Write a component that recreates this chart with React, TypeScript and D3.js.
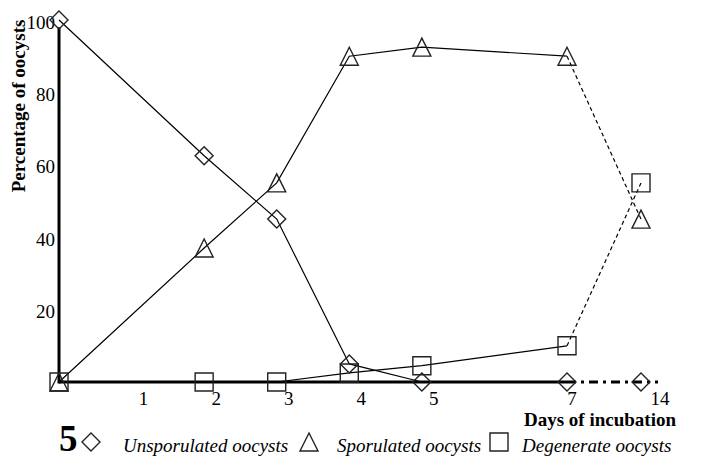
import React, { useEffect, useRef } from 'react';
import * as d3 from 'd3';

// days of incubation at which oocysts were counted
const days = [0, 2, 3, 4, 5, 7, 14];
const unsporulated = [100, 62.5, 45, 5, 0, 0, 0];
const sporulated = [0, 37, 55, 90, 92.5, 90, 45];
const degenerate = [0, 0, 0, 2.5, 4.5, 10, 55];

const xTickDays = [1, 2, 3, 4, 5, 7, 14];
const yTickValues = [20, 40, 60, 80, 100];

const legendItems = ['Unsporulated oocysts', 'Sporulated oocysts', 'Degenerate oocysts'];

const FONT = '"Liberation Serif", "Times New Roman", serif';

type Shape = 'diamond' | 'triangle' | 'square';

const markerPath = (shape: Shape, s = 9) => {
  if (shape === 'diamond') return `M0,${-s}L${s},0L0,${s}L${-s},0Z`;
  if (shape === 'triangle') return `M0,${-s}L${s},${s}L${-s},${s}Z`;
  return `M${-s},${-s}H${s}V${s}H${-s}Z`;
};

const App: React.FC = () => {
  const svgRef = useRef<SVGSVGElement>(null);

  useEffect(() => {
    if (!svgRef.current) return;
    const svg = d3.select(svgRef.current);
    svg.selectAll('*').remove();

    // broken axis: 0-7 evenly spaced, then a short jump to 14
    const x = d3.scaleLinear().domain([0, 7, 14]).range([59, 567, 641]);
    const y = d3.scaleLinear().domain([0, 100]).range([382, 20]);

    const series: { values: number[]; shape: Shape }[] = [
      { values: unsporulated, shape: 'diamond' },
      { values: sporulated, shape: 'triangle' },
      { values: degenerate, shape: 'square' },
    ];

    const line = d3.line<[number, number]>()
      .x(d => x(d[0]))
      .y(d => y(d[1]));

    // axes
    svg.append('line')
      .attr('x1', x(0)).attr('x2', x(0))
      .attr('y1', y(98)).attr('y2', y(0) + 1.5)
      .attr('stroke', '#000').attr('stroke-width', 3);

    svg.append('line')
      .attr('x1', x(0)).attr('x2', x(7))
      .attr('y1', y(0)).attr('y2', y(0))
      .attr('stroke', '#000').attr('stroke-width', 3);

    svg.append('line')
      .attr('x1', x(7)).attr('x2', x(14) + 17)
      .attr('y1', y(0)).attr('y2', y(0))
      .attr('stroke', '#000').attr('stroke-width', 3)
      .attr('stroke-dasharray', '9,5,3,5');

    // y tick labels
    svg.append('g')
      .selectAll('text')
      .data(yTickValues)
      .enter().append('text')
      .attr('x', x(0) - 4)
      .attr('y', d => y(d) + 2)
      .attr('dy', '0.35em')
      .attr('text-anchor', 'end')
      .style('font-family', FONT)
      .style('font-size', '19px')
      .text(d => d);

    // x tick labels sit a little right of their day
    const labelShift: Record<number, number> = { 7: 5, 14: 19 };
    svg.append('g')
      .selectAll('text')
      .data(xTickDays)
      .enter().append('text')
      .attr('x', d => x(d) + (labelShift[d] ?? 12))
      .attr('y', 405)
      .attr('text-anchor', 'middle')
      .style('font-family', FONT)
      .style('font-size', '19px')
      .text(d => d);

    svg.append('text')
      .attr('x', 676)
      .attr('y', 426)
      .attr('text-anchor', 'end')
      .style('font-family', FONT)
      .style('font-size', '19px')
      .style('font-weight', 'bold')
      .text('Days of incubation');

    svg.append('text')
      .attr('transform', 'translate(25,106) rotate(-90)')
      .attr('text-anchor', 'middle')
      .style('font-family', FONT)
      .style('font-size', '19px')
      .style('font-weight', 'bold')
      .text('Percentage of oocysts');

    // lines: solid to day 7, dashed from 7 to 14
    series.forEach(s => {
      const pts = days.map((d, i) => [d, s.values[i]] as [number, number]);
      const i7 = days.indexOf(7);
      svg.append('path')
        .datum(pts.slice(0, i7 + 1))
        .attr('fill', 'none')
        .attr('stroke', '#000')
        .attr('stroke-width', 1.2)
        .attr('d', line);
      if (s.shape !== 'diamond') {
        svg.append('path')
          .datum(pts.slice(i7))
          .attr('fill', 'none')
          .attr('stroke', '#000')
          .attr('stroke-width', 1.2)
          .attr('stroke-dasharray', '4,3')
          .attr('d', line);
      }
    });

    // markers
    series.forEach(s => {
      svg.append('g')
        .selectAll('path')
        .data(days.map((d, i) => [d, s.values[i]] as [number, number]))
        .enter().append('path')
        .attr('transform', d => `translate(${x(d[0])},${y(d[1])})`)
        .attr('d', markerPath(s.shape))
        .attr('fill', 'none')
        .attr('stroke', '#222')
        .attr('stroke-width', 1.4);
    });

    // legend
    svg.append('text')
      .attr('x', 59)
      .attr('y', 451)
      .style('font-family', FONT)
      .style('font-size', '37px')
      .style('font-weight', 'bold')
      .text('5');

    const legendX = [91, 309, 499];
    const textGap = [32, 28, 23];
    const shapes: Shape[] = ['diamond', 'triangle', 'square'];
    legendItems.forEach((label, i) => {
      svg.append('path')
        .attr('transform', `translate(${legendX[i]},442)`)
        .attr('d', markerPath(shapes[i]))
        .attr('fill', 'none')
        .attr('stroke', '#222')
        .attr('stroke-width', 1.4);
      svg.append('text')
        .attr('x', legendX[i] + textGap[i])
        .attr('y', 452)
        .style('font-family', FONT)
        .style('font-size', '19px')
        .style('font-style', 'italic')
        .text(label);
    });
  }, []);

  return (
    <svg
      ref={svgRef}
      width={702}
      height={459}
      style={{ position: 'absolute', left: 0, top: 0, background: '#fff' }}
    />
  );
};

export default App;
